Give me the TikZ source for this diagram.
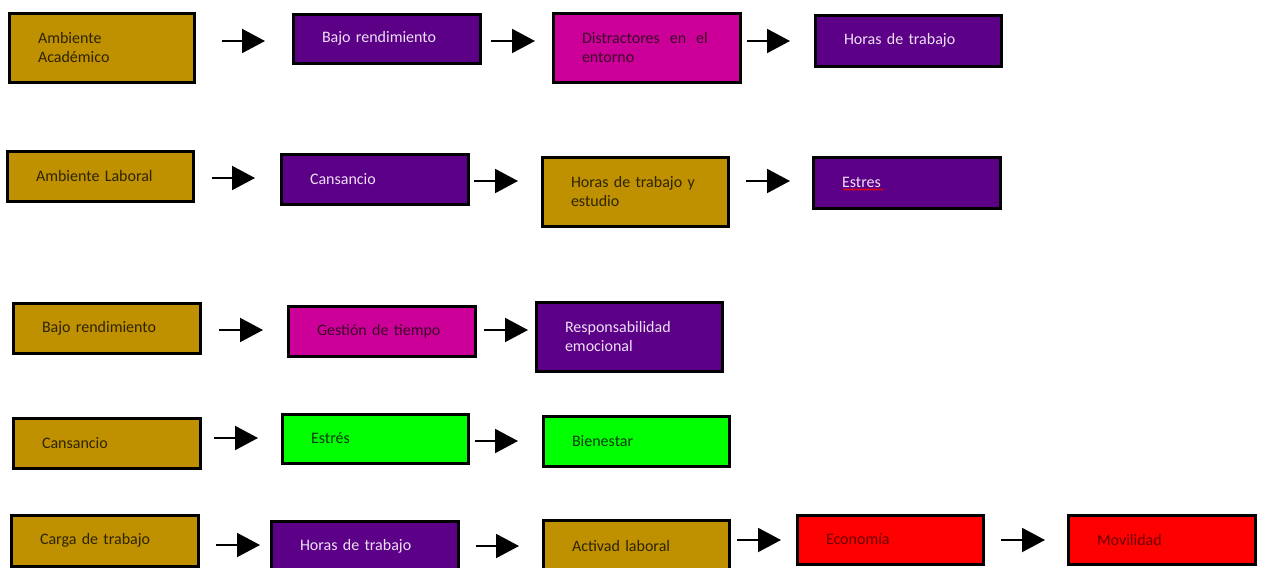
\documentclass[tikz,border=0pt]{standalone}
\usepackage{fontspec}
\setmainfont{Carlito}
\usetikzlibrary{arrows.meta,decorations.pathmorphing}
\definecolor{cgold}{HTML}{BF9000}
\definecolor{cpurple}{HTML}{5C0087}
\definecolor{cmag}{HTML}{CC0099}
\definecolor{cgreen}{HTML}{00FF00}
\definecolor{cred}{HTML}{FF0000}
\definecolor{tgold}{HTML}{2E2400}
\definecolor{tpurple}{HTML}{EDE0F5}
\definecolor{tmag}{HTML}{3A0028}
\definecolor{tgreen}{HTML}{0A3A0A}
\definecolor{tred}{HTML}{6A0000}
\begin{document}
\begin{tikzpicture}[x=1pt,y=-1pt,
  box/.style={draw=black, line width=3pt, outer sep=0pt, inner xsep=29pt, inner ysep=0pt,
    align=left, font=\fontsize{16}{19}\selectfont},
  sz/.code 2 args={\pgfmathsetlengthmacro\tw{#1pt-58pt}\tikzset{minimum width=#1pt,minimum height=#2pt,text width=\tw}},
  gold/.style={box, fill=cgold, text=tgold},
  purple/.style={box, fill=cpurple, text=tpurple},
  mag/.style={box, fill=cmag, text=tmag},
  green/.style={box, fill=cgreen, text=tgreen},
  redb/.style={box, fill=cred, text=tred},
  arr/.style={line width=2pt, -{Triangle[length=23pt,width=24pt]}}]
\useasboundingbox (0,0) rectangle (1262,568);
% Row 1
\node[gold,sz={185}{69}] (A1) at (101.5,47.5) {Ambiente\\Académico};
\node[purple,sz={187}{49}] (B1) at (386.5,38.5) {Bajo rendimiento};
\node[mag,sz={187}{69}] (C1) at (646.5,47.5) {Distractores\hspace{10pt}en\hspace{10pt}el\\entorno};
\node[purple,sz={186}{51}] (D1) at (908,40.5) {Horas de trabajo};
% Row 2
\node[gold,sz={186}{50}] (A2) at (100,176) {Ambiente Laboral};
\node[purple,sz={187}{50}] (B2) at (374.5,179) {Cansancio};
\node[gold,sz={186}{69}] (C2) at (635,191.5) {Horas de trabajo y\\estudio};
\node[purple,sz={187}{51}] (D2) at (906.5,182.5) {Estres};
% Row 3
\node[gold,sz={187}{50}] (A3) at (106.5,328) {Bajo rendimiento};
\node[mag,sz={187}{50}] (B3) at (381.5,331) {Gestión de tiempo};
\node[purple,sz={186}{69}] (C3) at (629,336.5) {Responsabilidad\\emocional};
% Row 4
\node[gold,sz={187}{50}] (A4) at (106.5,443) {Cansancio};
\node[green,sz={186}{49}] (B4) at (375,438.5) {Estrés};
\node[green,sz={186}{50}] (C4) at (636,441) {Bienestar};
% Row 5
\node[gold,sz={187}{51}] (A5) at (104.5,540.5) {Carga de trabajo};
\node[purple,sz={187}{51}] (B5) at (364.5,546.5) {Horas de trabajo};
\node[gold,sz={186}{51}] (C5) at (636,545.5) {Activad laboral};
\node[redb,sz={186}{49}] (D5) at (890,539.5) {Economía};
\node[redb,sz={187}{49}] (E5) at (1161.5,539.5) {Movilidad};
% spell-check underline
\draw[red, line width=0.6pt, decorate, decoration={snake,amplitude=0.7pt,segment length=2.2pt}] (843,189.5) -- (883,189.5);
% Arrows row 1
\draw[arr, shorten <=28pt, shorten >=28pt] (A1.east |- 0,41) -- (B1.west |- 0,41);
\draw[arr, shorten <=11pt, shorten >=18pt] (B1.east |- 0,41) -- (C1.west |- 0,41);
\draw[arr, shorten <=7pt, shorten >=25pt] (C1.east |- 0,41) -- (D1.west |- 0,41);
% Arrows row 2
\draw[arr, shorten <=19pt, shorten >=26pt] (A2.east |- 0,178) -- (B2.west |- 0,178);
\draw[arr, shorten <=6pt, shorten >=24pt] (B2.east |- 0,181) -- (C2.west |- 0,181);
\draw[arr, shorten <=18pt, shorten >=23pt] (C2.east |- 0,181) -- (D2.west |- 0,181);
% Arrows row 3
\draw[arr, shorten <=19pt, shorten >=25pt] (A3.east |- 0,330) -- (B3.west |- 0,330);
\draw[arr, shorten <=9pt, shorten >=8pt] (B3.east |- 0,330) -- (C3.west |- 0,330);
% Arrows row 4
\draw[arr, shorten <=14pt, shorten >=24pt] (A4.east |- 0,438) -- (B4.west |- 0,438);
\draw[arr, shorten <=7pt, shorten >=25pt] (B4.east |- 0,441) -- (C4.west |- 0,441);
% Arrows row 5
\draw[arr, shorten <=18pt, shorten >=11pt] (A5.east |- 0,545) -- (B5.west |- 0,545);
\draw[arr, shorten <=18pt, shorten >=24pt] (B5.east |- 0,546) -- (C5.west |- 0,546);
\draw[arr, shorten <=8pt, shorten >=16pt] (C5.east |- 0,540) -- (D5.west |- 0,540);
\draw[arr, shorten <=18pt, shorten >=23pt] (D5.east |- 0,540) -- (E5.west |- 0,540);
\end{tikzpicture}
\end{document}
